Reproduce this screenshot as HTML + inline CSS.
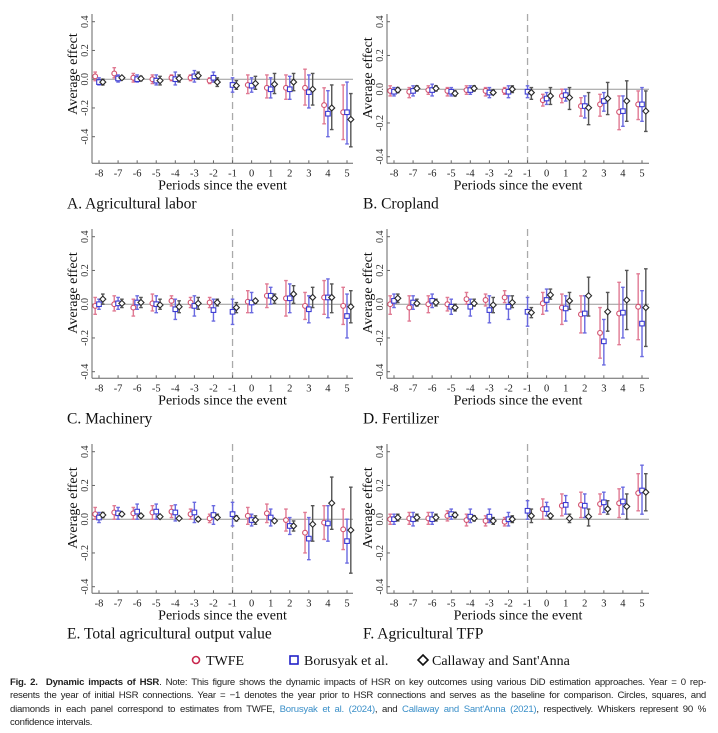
<!DOCTYPE html>
<html><head><meta charset="utf-8">
<style>
html,body{margin:0;padding:0;background:#fff;width:718px;height:733px;overflow:hidden;}
#wrap{position:relative;width:718px;height:733px;}
svg{position:absolute;left:0;top:0;font-family:"Liberation Serif",serif;}
#caption{position:absolute;left:10px;top:676px;width:696px;font-family:"Liberation Sans Narrow","Liberation Sans",sans-serif;font-size:9.6px;line-height:13.3px;color:#222;letter-spacing:-0.25px;}
#caption .ln{text-align:justify;text-align-last:justify;white-space:nowrap;overflow:hidden;height:13.3px;}
#caption .last{text-align-last:left;}
#caption a{color:#3a8fc8;text-decoration:none;}
</style></head><body>
<div id="wrap">
<svg id="chart" width="718" height="733" viewBox="0 0 718 733"></svg>
<div id="caption">
<div class="ln" style="white-space:normal"><b>Fig. 2.&nbsp; Dynamic impacts of HSR</b>. Note: This figure shows the dynamic impacts of HSR on key outcomes using various DiD estimation approaches. Year = 0 rep-</div>
<div class="ln" style="white-space:normal">resents the year of initial HSR connections. Year = −1 denotes the year prior to HSR connections and serves as the baseline for comparison. Circles, squares, and</div>
<div class="ln" style="white-space:normal">diamonds in each panel correspond to estimates from TWFE, <a>Borusyak et al. (2024)</a>, and <a>Callaway and Sant'Anna (2021)</a>, respectively. Whiskers represent 90 %</div>
<div class="ln last">confidence intervals.</div>
</div>
</div>
<script>
const periods = [-8,-7,-6,-5,-4,-3,-2,-1,0,1,2,3,4,5];
const yTicks = [0.4,0.2,0.0,-0.2,-0.4];
const yTickLabels = ["0.4","0.2","0.0","-0.2","-0.4"];
const panelTitles = ["A. Agricultural labor","B. Cropland","C. Machinery","D. Fertilizer","E. Total agricultural output value","F. Agricultural TFP"];
const seriesNames = ["TWFE","Borusyak et al.","Callaway and Sant'Anna"];
// estimates [est, lo, hi] per period; null = not estimated
const aTWFE = [[0.02,-0.01,0.05],[0.04,0.01,0.08],[0.01,-0.02,0.04],[0,-0.03,0.03],[0.01,-0.01,0.03],[0.01,-0.01,0.03],[-0.01,-0.03,0.01],null,[-0.04,-0.10,0.03],[-0.06,-0.13,0.03],[-0.06,-0.14,0.03],[-0.06,-0.18,0.07],[-0.18,-0.31,-0.06],[-0.23,-0.42,-0.04]];
const aBJS = [[-0.02,-0.04,0.01],[0.005,-0.02,0.03],[0,-0.02,0.03],[-0.01,-0.04,0.03],[0,-0.04,0.05],[0.02,-0.02,0.06],[0.01,-0.02,0.05],[-0.04,-0.09,0.01],[-0.045,-0.09,0.01],[-0.07,-0.13,0.01],[-0.07,-0.14,0.02],[-0.09,-0.20,0.03],[-0.24,-0.40,-0.08],[-0.23,-0.45,-0.02]];
const aCS = [[-0.02,-0.04,0],[0.01,0,0.02],[0.005,-0.01,0.02],[-0.01,-0.04,0.02],[0.005,-0.02,0.03],[0.025,0,0.05],[-0.02,-0.05,0.01],[-0.045,-0.07,-0.01],[-0.03,-0.07,0.02],[-0.035,-0.10,0.04],[-0.02,-0.08,0.04],[-0.07,-0.18,0.04],[-0.20,-0.35,-0.04],[-0.28,-0.47,-0.10]];
const bTWFE = [[-0.01,-0.04,0.02],[-0.015,-0.05,0.01],[-0.005,-0.03,0.02],[-0.01,-0.04,0.01],[-0.005,-0.03,0.02],[-0.01,-0.04,0.01],[-0.01,-0.03,0.01],null,[-0.065,-0.10,-0.03],[-0.04,-0.08,0],[-0.10,-0.16,-0.05],[-0.09,-0.16,-0.03],[-0.135,-0.24,-0.04],[-0.09,-0.18,-0.01]];
const bBJS = [[-0.015,-0.04,0.01],[-0.01,-0.04,0.02],[-0.005,-0.04,0.03],[-0.015,-0.04,0.01],[-0.005,-0.03,0.02],[-0.02,-0.05,0.01],[-0.015,-0.05,0.02],[-0.015,-0.05,0.02],[-0.055,-0.09,-0.02],[-0.035,-0.07,0],[-0.10,-0.17,-0.04],[-0.07,-0.13,-0.02],[-0.13,-0.22,-0.04],[-0.09,-0.19,0.01]];
const bCS = [[-0.005,-0.02,0.01],[0.005,-0.01,0.02],[0.005,-0.01,0.02],[-0.025,-0.04,-0.01],[0.005,-0.01,0.02],[-0.02,-0.03,-0.005],[0,-0.02,0.02],[-0.02,-0.06,0.01],[-0.04,-0.09,0.01],[-0.05,-0.12,0.01],[-0.11,-0.21,-0.02],[-0.055,-0.15,0.04],[-0.07,-0.19,0.05],[-0.13,-0.25,-0.01]];
const cTWFE = [[-0.01,-0.06,0.04],[0,-0.04,0.05],[-0.02,-0.07,0.03],[0.005,-0.04,0.06],[0.02,-0.01,0.05],[0.01,-0.02,0.04],[0.01,-0.02,0.04],null,[0.015,-0.05,0.08],[0.05,-0.02,0.12],[0.035,-0.07,0.14],[-0.01,-0.09,0.07],[0.04,-0.06,0.14],[-0.01,-0.12,0.10]];
const cBJS = [[0,-0.03,0.03],[0.005,-0.03,0.04],[0.01,-0.03,0.05],[0,-0.05,0.05],[-0.03,-0.09,0.03],[-0.01,-0.07,0.05],[-0.035,-0.10,0.03],[-0.045,-0.12,0.03],[0.01,-0.05,0.07],[0.05,0,0.10],[0.035,-0.05,0.12],[-0.03,-0.11,0.05],[0.04,-0.08,0.15],[-0.07,-0.20,0.06]];
const cCS = [[0.03,0,0.06],[0.005,-0.02,0.03],[0.01,-0.02,0.04],[-0.005,-0.03,0.03],[-0.015,-0.05,0.02],[0.005,-0.03,0.04],[0.01,-0.01,0.03],[-0.02,-0.05,0.01],[0.02,0.005,0.03],[0.035,0.005,0.06],[0.06,0.005,0.11],[0.04,-0.02,0.10],[0.04,-0.05,0.12],[-0.015,-0.11,0.08]];
const dTWFE = [[0,-0.06,0.05],[-0.02,-0.10,0.05],[0,-0.05,0.05],[0,-0.04,0.04],[0.03,0,0.07],[0.025,-0.01,0.06],[0.04,0.01,0.08],null,[0.005,-0.06,0.07],[-0.02,-0.12,0.06],[-0.06,-0.17,0.05],[-0.17,-0.32,-0.02],[-0.055,-0.24,0.13],[-0.015,-0.21,0.18]];
const dBJS = [[0.02,-0.02,0.06],[0.01,-0.03,0.05],[0.02,-0.02,0.06],[-0.015,-0.06,0.03],[-0.015,-0.07,0.03],[-0.035,-0.11,0.05],[-0.015,-0.09,0.05],[-0.045,-0.13,0.04],[0.025,-0.04,0.09],[-0.025,-0.10,0.05],[-0.055,-0.17,0.05],[-0.22,-0.36,-0.09],[-0.05,-0.20,0.10],[-0.115,-0.31,0.08]];
const dCS = [[0.035,0.01,0.06],[0.005,-0.01,0.03],[0.01,-0.01,0.03],[-0.02,-0.04,0],[0.005,-0.01,0.03],[-0.005,-0.05,0.04],[0.01,-0.02,0.05],[-0.05,-0.08,-0.02],[0.055,0.03,0.09],[0.02,-0.03,0.07],[0.05,-0.07,0.16],[-0.045,-0.16,0.07],[0.025,-0.15,0.20],[-0.02,-0.25,0.21]];
const eTWFE = [[0.03,0,0.07],[0.04,0,0.08],[0.035,0,0.07],[0.04,0,0.08],[0.045,0.01,0.08],[0.03,0,0.06],[0.005,-0.02,0.03],null,[0.02,-0.03,0.07],[0.035,-0.02,0.09],[-0.005,-0.07,0.06],[-0.08,-0.20,0.04],[-0.02,-0.12,0.08],[-0.06,-0.18,0.06]];
const eBJS = [[0.01,-0.02,0.04],[0.035,0,0.07],[0.045,0,0.09],[0.045,0,0.09],[0.04,-0.01,0.085],[0.04,-0.02,0.10],[0.025,-0.03,0.08],[0.03,-0.04,0.10],[-0.005,-0.04,0.03],[0.01,-0.04,0.06],[-0.04,-0.09,0.01],[-0.115,-0.24,0.01],[-0.025,-0.13,0.08],[-0.13,-0.26,0]];
const eCS = [[0.025,0.01,0.04],[0.03,0.02,0.04],[0.02,0.015,0.03],[0.015,0.01,0.02],[0.005,0,0.01],[0,-0.01,0.01],[0.01,0,0.03],[0.005,-0.01,0.02],[-0.005,-0.03,0.02],[-0.01,-0.02,0],[-0.04,-0.07,-0.01],[-0.03,-0.13,0.08],[0.095,-0.06,0.25],[-0.065,-0.32,0.19]];
const fTWFE = [[0,-0.03,0.03],[0.005,-0.03,0.04],[0.005,-0.03,0.04],[0.02,-0.01,0.05],[-0.005,-0.04,0.03],[-0.01,-0.04,0.02],[-0.015,-0.04,0.01],null,[0.06,0,0.12],[0.08,0.02,0.15],[0.085,0.01,0.16],[0.09,0.03,0.15],[0.095,0.01,0.18],[0.155,0.05,0.27]];
const fBJS = [[0,-0.03,0.03],[0,-0.04,0.04],[0,-0.03,0.04],[0.03,0,0.06],[0.015,-0.02,0.06],[0.015,-0.02,0.06],[0,-0.04,0.04],[0.05,0,0.11],[0.06,0.02,0.10],[0.085,0.03,0.14],[0.08,0.01,0.15],[0.10,0.04,0.16],[0.105,0.03,0.19],[0.17,0.03,0.32]];
const fCS = [[0.01,-0.01,0.03],[0.01,-0.01,0.03],[0.01,-0.01,0.03],[0.025,0.01,0.04],[0.005,-0.01,0.02],[-0.01,-0.03,0.01],[0,-0.02,0.02],[0.02,-0.02,0.06],[0.02,0,0.03],[0.005,-0.02,0.03],[0.015,-0.04,0.06],[0.06,0.03,0.11],[0.075,0,0.15],[0.16,0.05,0.27]];
const panelSeries = [[aTWFE,aBJS,aCS],[bTWFE,bBJS,bCS],[cTWFE,cBJS,cCS],[dTWFE,dBJS,dCS],[eTWFE,eBJS,eCS],[fTWFE,fBJS,fCS]];

const NS="http://www.w3.org/2000/svg";
const svg=document.getElementById('chart');
function mk(tag,attrs,parent,text){const e=document.createElementNS(NS,tag);for(const k in attrs)e.setAttribute(k,attrs[k]);if(text!==undefined)e.textContent=text;(parent||svg).appendChild(e);return e;}
const colors=["#d2506e","#3a3ad2","#2a2a2a"];
const barColors=["#e07a93","#6a6ae0","#555"];
const offsets=[-0.2,0,0.2];

for(let p=0;p<6;p++){
  const col=p%2,row=Math.floor(p/2);
  const o=10+row*215;
  const axL=col?387:92, axR=col?649:353, t0=col?394:99, step=(col?(642-394):(347-99))/13;
  const yTop = o+11.7;
  const yBot = p===0? o+126.7 : o+146.7;
  const xS=v=>t0+(v-periods[0])*step;
  const yS=v=>yTop+(0.4-v)*(yBot-yTop)/0.8;
  const bottom=o+153.3;
  const g=mk('g',{});
  
  
  const ya=mk('line',{x1:axL,y1:o+4,x2:axL,y2:bottom,stroke:'#666','stroke-width':1},g);
  
  const xa=mk('line',{x1:axL,y1:bottom,x2:axR,y2:bottom,stroke:'#666','stroke-width':1},g);
  
  const zl=mk('line',{x1:axL,y1:yS(0),x2:axR,y2:yS(0),stroke:'#999','stroke-width':1},g);
  
  const dl=mk('line',{x1:xS(-1),y1:o+4,x2:xS(-1),y2:bottom,stroke:'#aaa','stroke-width':1.3,'stroke-dasharray':'7,4'},g);
  
  yTicks.forEach((v,i)=>{
    mk('line',{x1:axL,y1:yS(v),x2:axL+3,y2:yS(v),stroke:'#666'},g);
    const t=mk('text',{x:0,y:0,transform:`translate(${axL-4},${yS(v)}) rotate(-90)`,'text-anchor':'middle','font-size':10,fill:'#333'},g,yTickLabels[i]);
    
  });
  periods.forEach(v=>{
    mk('line',{x1:xS(v),y1:bottom,x2:xS(v),y2:bottom-3,stroke:'#666'},g);
    const t=mk('text',{x:xS(v),y:bottom+13,'text-anchor':'middle','font-size':10.5,fill:'#222'},g,String(v));
    
  });
  const yt=mk('text',{transform:`translate(${axL-15},${o+64+(p===0?0:4)}) rotate(-90)`,'text-anchor':'middle','font-size':14,fill:'#111'},g,'Average effect');
  
  const xt=mk('text',{x:(axL+axR)/2,y:bottom+26,'text-anchor':'middle','font-size':14,fill:'#111'},g,'Periods since the event');
  
  const pt=mk('text',{x:col?363:67,y:bottom+45,'font-size':15.5,fill:'#111'},g,panelTitles[p]);
  
  panelSeries[p].forEach((ser,s)=>{
    ser.forEach((d,i)=>{
      if(!d)return;
      const x=xS(periods[i]+offsets[s]);
      const y=yS(d[0]),ylo=yS(d[1]),yhi=yS(d[2]);
      const bar=mk('path',{d:`M${x},${ylo}V${yhi}M${x-1.8},${ylo}H${x+1.8}M${x-1.8},${yhi}H${x+1.8}`,stroke:barColors[s],'stroke-width':1.4,fill:'none'},g);
      
      let m;
      if(s===0)m=mk('circle',{cx:x,cy:y,r:2.4,fill:'#fff',stroke:colors[0],'stroke-width':1.1},g);
      else if(s===1)m=mk('rect',{x:x-2.3,y:y-2.3,width:4.6,height:4.6,fill:'#fff',stroke:colors[1],'stroke-width':1.1},g);
      else m=mk('path',{d:`M${x},${y-3}L${x+3},${y}L${x},${y+3}L${x-3},${y}Z`,fill:'#fff',stroke:colors[2],'stroke-width':1.1},g);
      
    });
  });
}
const lg=mk('g',{});

const ly=660;
const e1=mk('circle',{cx:196,cy:ly,r:3.5,fill:'none',stroke:'#c8284e','stroke-width':1.6},lg);

const l1=mk('text',{x:206,y:ly+5,'font-size':14,fill:'#111'},lg,seriesNames[0]);

const e2=mk('rect',{x:290,y:ly-4,width:8,height:8,fill:'none',stroke:'#2222c8','stroke-width':1.6},lg);

const l2=mk('text',{x:304,y:ly+5,'font-size':14,fill:'#111'},lg,seriesNames[1]);

const e3=mk('path',{d:`M423,${ly-5}L428,${ly}L423,${ly+5}L418,${ly}Z`,fill:'none',stroke:'#111','stroke-width':1.6},lg);

const l3=mk('text',{x:432,y:ly+5,'font-size':14,fill:'#111'},lg,seriesNames[2]);

</script>
</body></html>
